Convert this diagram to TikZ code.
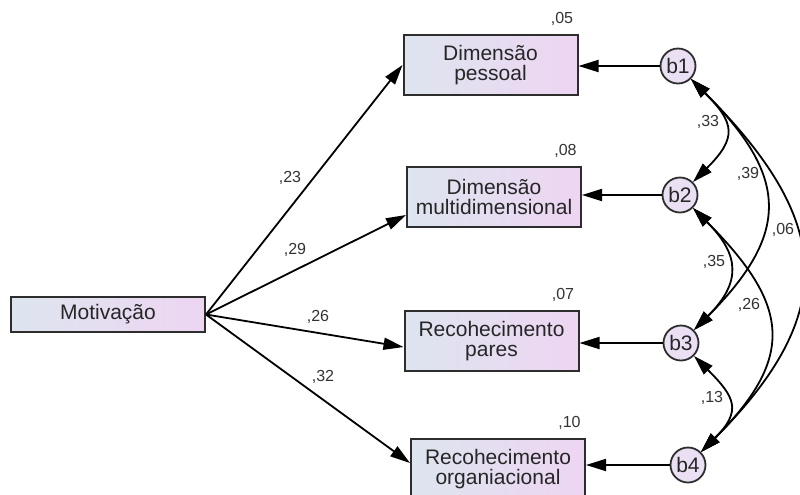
\documentclass[tikz,border=0pt]{standalone}
\usepackage{fontspec}
\setmainfont{Liberation Sans}
\usepackage{xcolor}
\usepackage{tikz}
\usetikzlibrary{arrows.meta,positioning}
\definecolor{boxleft}{RGB}{221,229,239}
\definecolor{boxright}{RGB}{238,213,242}
\definecolor{errfill}{RGB}{234,223,243}
\definecolor{edge}{RGB}{45,45,45}

\begin{document}
\begin{tikzpicture}[
  x=0.5pt, y=0.5pt,
  font=\fontsize{10.5}{10}\selectfont,
  obs/.style={draw=edge, line width=1pt, left color=boxleft, right color=boxright, minimum width=87pt, minimum height=30pt, align=center, inner sep=1pt, text=black!85},
  err/.style={draw=edge, line width=0.9pt, circle, fill=errfill, minimum size=17.5pt, inner sep=0pt, text=black!85},
  est/.style={font=\fontsize{8}{9}\selectfont, inner sep=1pt, text=black!80},
  arr/.style={-{Triangle[length=10pt,width=6pt]}, line width=0.9pt},
  cov/.style={{Triangle[length=10pt,width=6pt]}-{Triangle[length=10pt,width=6pt]}, line width=0.9pt},
  bendr/.style={out=-45, in=45}
]
\useasboundingbox (0,0) rectangle (800,-494);
\node[obs, minimum width=97pt, minimum height=17.5pt] (mot) at (108,-314.5) {Motivação};
\node[obs] (pess) at (490.5,-65) {Dimensão\\pessoal};
\node[obs] (mult) at (494,-197) {Dimensão\\multidimensional};
\node[obs] (pares) at (491.5,-341) {Recohecimento\\pares};
\node[obs] (org) at (498,-469) {Recohecimento\\organiacional};
\node[err] (b1) at (678,-66) {b1};
\node[err] (b2) at (680,-195) {b2};
\node[err] (b3) at (681,-343) {b3};
\node[err] (b4) at (688,-465) {b4};
\node[est, above left=3pt and 1.5pt of pess.north east] (r1) {,05};
\node[est, above left=3pt and 1.5pt of mult.north east] (r2) {,08};
\node[est, above left=3pt and 1.5pt of pares.north east] (r3) {,07};
\node[est, above left=3pt and 1.5pt of org.north east] (r4) {,10};
\draw[arr] (mot.east) -- (pess.west);
\draw[arr] (mot.east) -- ([yshift=-9pt]mult.west);
\draw[arr] (mot.east) -- ([yshift=-3pt]pares.west);
\draw[arr] (mot.east) -- ([yshift=3pt]org.west);
\draw[arr] (b1) -- (b1 -| pess.east);
\draw[arr] (b2) -- (b2 -| mult.east);
\draw[arr] (b3) -- (b3 -| pares.east);
\draw[arr] (b4) -- (b4 -| org.east);
\node[est] (w1) at (290,-178) {,23};
\node[est] (w2) at (295,-250) {,29};
\node[est] (w3) at (318,-317) {,26};
\node[est] (w4) at (323,-377) {,32};
\draw[cov] (b1) to[bendr, looseness=1.55] (b2);
\draw[cov] (b2) to[bendr, looseness=1.4] (b3);
\draw[cov] (b3) to[bendr, looseness=1.55] (b4);
\draw[cov] (b1) to[bendr, looseness=1.4] (b3);
\draw[cov] (b2) to[bendr, looseness=1.42] (b4);
\draw[cov] (b1) to[bendr, looseness=1.36] (b4);
\node[est] (c12) at (708,-122) {,33};
\node[est] (c13) at (748,-174) {,39};
\node[est] (c14) at (783,-230) {,06};
\node[est] (c23) at (714,-262) {,35};
\node[est] (c24) at (749,-305) {,26};
\node[est] (c34) at (712,-398) {,13};
\end{tikzpicture}
\end{document}
